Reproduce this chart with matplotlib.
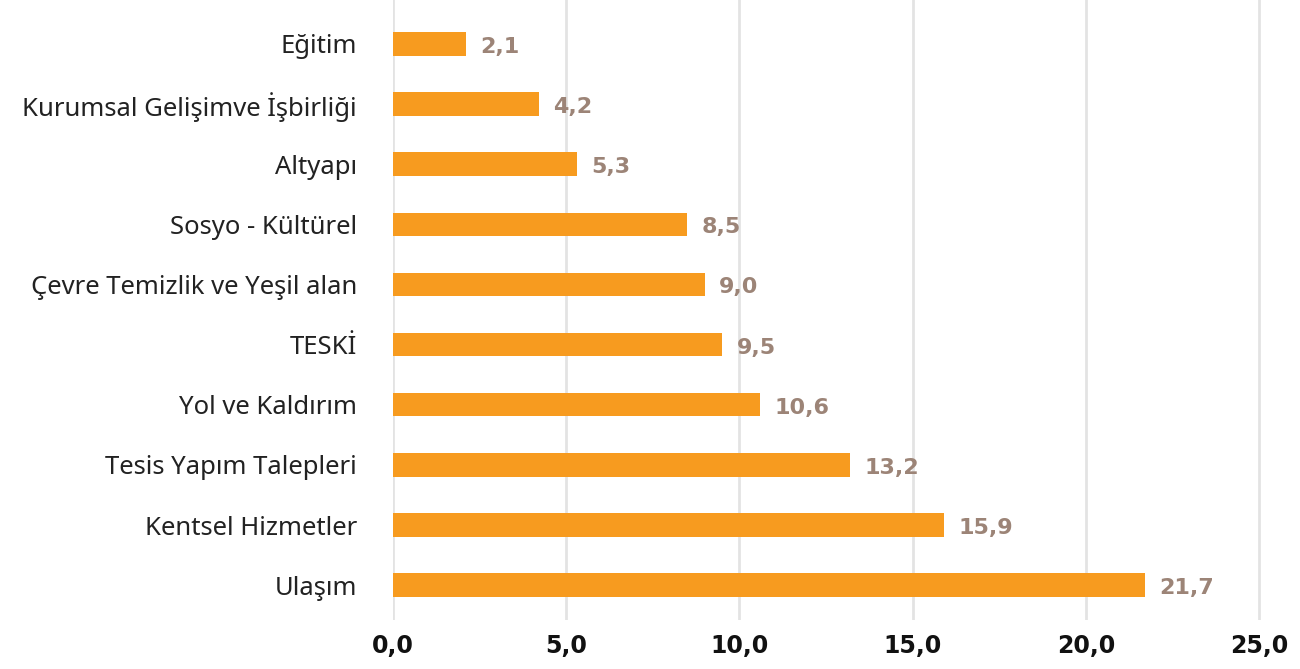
import matplotlib
matplotlib.use("Agg")
import matplotlib.pyplot as plt

categories = [
    "Eğitim",
    "Kurumsal Gelişimve İşbirliği",
    "Altyapı",
    "Sosyo - Kültürel",
    "Çevre Temizlik ve Yeşil alan",
    "TESKİ",
    "Yol ve Kaldırım",
    "Tesis Yapım Talepleri",
    "Kentsel Hizmetler",
    "Ulaşım",
]
values = [2.1, 4.2, 5.3, 8.5, 9.0, 9.5, 10.6, 13.2, 15.9, 21.7]
xticks = [0, 5, 10, 15, 20, 25]

BAR = "#f79b1f"
LABEL = "#9c8477"

fig = plt.figure(figsize=(13, 6.69), dpi=100)
ax = fig.add_axes([0.3023, 0.0732, 0.6716, 0.9268])

ypos = list(range(len(categories)))
ax.barh(ypos, values, height=0.39, color=BAR, zorder=3)

for y, v in zip(ypos, values):
    ax.text(v + 0.42, y + 0.05, f"{v:.1f}".replace(".", ","), va="center", ha="left",
            fontsize=16, fontweight="bold", color=LABEL, family="DejaVu Sans")

ax.set_xlim(0, 25.2)
ax.set_ylim(9.58, -0.73)
ax.set_yticks(ypos)
ax.set_yticklabels(categories, fontsize=18.5, color="#222222", family="Noto Sans")
ax.set_xticks(xticks)
ax.set_xticklabels([f"{t:.1f}".replace(".", ",") for t in xticks], fontsize=17,
                   fontweight="bold", color="#111111", family="DejaVu Sans")
ax.tick_params(axis="y", length=0, pad=26)
ax.tick_params(axis="x", length=0, pad=10)

ax.grid(axis="x", color="#e3e3e3", linewidth=2, zorder=0)
ax.grid(axis="y", visible=False)
for s in ax.spines.values():
    s.set_visible(False)

fig.savefig("out.png", dpi=100)
